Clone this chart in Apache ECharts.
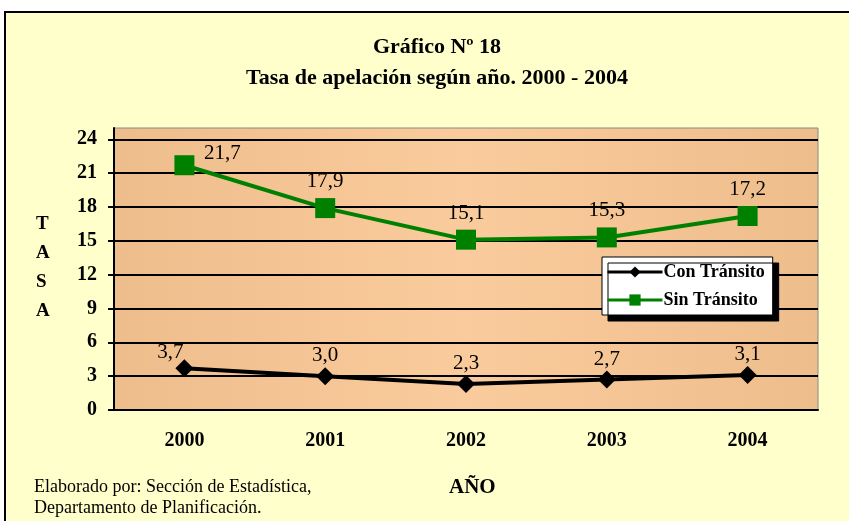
<!DOCTYPE html>
<html>
<head>
<meta charset="utf-8">
<script src="https://cdn.jsdelivr.net/npm/echarts@6/dist/echarts.min.js"></script>
<style>
  html, body { margin: 0; padding: 0; background: #fff; }
  #container { width: 849px; height: 521px; }
</style>
</head>
<body>
<div id="container"></div>
<script>
var years = ['2000', '2001', '2002', '2003', '2004'];
var conTransito = [3.7, 3.0, 2.3, 2.7, 3.1];
var sinTransito = [21.7, 17.9, 15.1, 15.3, 17.2];
var yTicks = { min: 0, max: 25, interval: 3 };

var serif = 'Liberation Serif';

function comma(p) {
    return p.value.toFixed(1).replace('.', ',');
}

var dom = document.getElementById('container');
var myChart = echarts.init(dom, null, { renderer: 'canvas' });

var option = {
    backgroundColor: '#ffffff',
    animation: false,
    graphic: [
        {
            type: 'rect',
            z: -10,
            shape: { x: 5, y: 12, width: 900, height: 600 },
            style: { fill: '#FFFFCC', stroke: '#000', lineWidth: 2 }
        },
        {
            type: 'text',
            left: 34, top: 477,
            style: {
                text: 'Elaborado por: Sección de Estadística,\nDepartamento de Planificación.',
                font: '18px ' + serif, fill: '#000', lineHeight: 21
            }
        },
        {
            type: 'text',
            left: 449, top: 477,
            style: { text: 'AÑO', font: 'bold 21px ' + serif, fill: '#000' }
        },
        {
            type: 'text',
            left: 36, top: 210,
            style: { text: 'T\nA\nS\nA', font: 'bold 19px ' + serif, fill: '#000', lineHeight: 29 }
        }
    ],
    title: {
        text: 'Gráfico Nº 18\nTasa de apelación según año. 2000 - 2004',
        left: 432,
        top: 27,
        textAlign: 'center',
        textStyle: { fontFamily: serif, fontWeight: 'bold', fontSize: 22, lineHeight: 31, color: '#000' }
    },
    legend: {
        orient: 'vertical',
        left: 602,
        top: 257,
        backgroundColor: '#fff',
        borderColor: '#000',
        borderWidth: 1,
        shadowColor: '#000',
        shadowOffsetX: 6,
        shadowOffsetY: 6,
        shadowBlur: 0,
        padding: [6, 8, 6, 4],
        itemWidth: 55,
        itemHeight: 14,
        itemGap: 10,
        lineStyle: { width: 3 },
        textStyle: { fontFamily: serif, fontWeight: 'bold', fontSize: 18, color: '#000', padding: [0, 0, 0, -4] },
        data: ['Con Tránsito', 'Sin Tránsito']
    },
    grid: {
        left: 114,
        right: 31,
        top: 128,
        bottom: 111,
        show: true,
        borderColor: '#888',
        borderWidth: 1,
        backgroundColor: new echarts.graphic.LinearGradient(0, 0, 1, 0, [
            { offset: 0, color: '#EEBD8C' },
            { offset: 0.5, color: '#FACB9C' },
            { offset: 1, color: '#EEBD8C' }
        ])
    },
    xAxis: {
        type: 'category',
        data: years,
        boundaryGap: true,
        axisLine: { lineStyle: { color: '#000', width: 2 } },
        axisTick: { length: 6, lineStyle: { color: '#000', width: 2 } },
        axisLabel: { margin: 21, fontFamily: serif, fontWeight: 'bold', fontSize: 20, color: '#000' }
    },
    yAxis: {
        type: 'value',
        min: yTicks.min,
        max: yTicks.max,
        interval: yTicks.interval,
        axisLine: { show: true, lineStyle: { color: '#000', width: 2 } },
        axisTick: { show: true, length: 6, lineStyle: { color: '#000', width: 2 } },
        axisLabel: { margin: 17, showMaxLabel: false, fontFamily: serif, fontWeight: 'bold', fontSize: 20, color: '#000' },
        splitLine: { show: true, showMaxLine: false, lineStyle: { color: '#000', width: 2 } }
    },
    series: [
        {
            name: 'Con Tránsito',
            type: 'line',
            data: conTransito,
            symbol: 'diamond',
            symbolSize: 18,
            itemStyle: { color: '#000' },
            lineStyle: { color: '#000', width: 4 },
            label: {
                show: true, position: 'top', distance: 1,
                formatter: comma, fontFamily: serif, fontSize: 21, color: '#000'
            },
            labelLayout: function (params) {
                if (params.dataIndex === 0) {
                    return { x: params.labelRect.x - 14, y: params.labelRect.y + 5 };
                }
            }
        },
        {
            name: 'Sin Tránsito',
            type: 'line',
            data: sinTransito,
            symbol: 'rect',
            symbolSize: 20,
            itemStyle: { color: '#008000' },
            lineStyle: { color: '#008000', width: 4 },
            label: {
                show: true, position: 'top', distance: 6,
                formatter: comma, fontFamily: serif, fontSize: 21, color: '#000'
            },
            labelLayout: function (params) {
                if (params.dataIndex === 0) {
                    return { x: params.labelRect.x + 38, y: params.labelRect.y + 15 };
                }
            }
        }
    ]
};

myChart.setOption(option);
window.addEventListener('resize', myChart.resize);
</script>
</body>
</html>
